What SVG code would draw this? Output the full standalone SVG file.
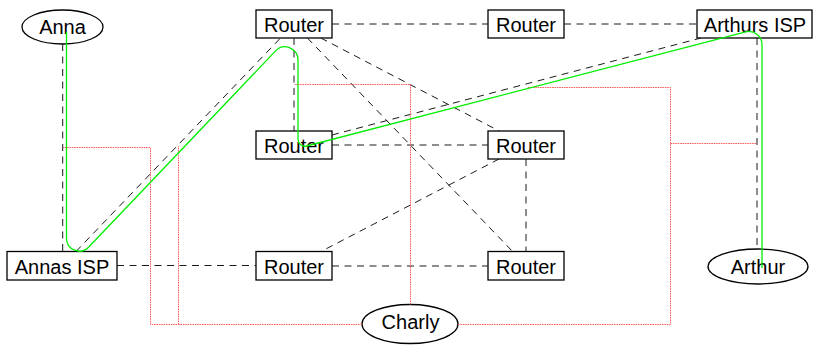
<svg xmlns="http://www.w3.org/2000/svg" width="816" height="345" viewBox="0 0 816 345">
<style>
  .box { fill: #fff; stroke: #000; stroke-width: 1.3; }
  .ell { fill: #fff; stroke: #000; stroke-width: 1.3; }
  .lbl { font-family: "Liberation Sans", Arial, sans-serif; font-size: 20px; fill: #000; text-anchor: middle; }
  .dash { fill: none; stroke: #1a1a1a; stroke-width: 1; stroke-dasharray: 7 5.5; }
  .dot { fill: none; stroke: #ff5c5c; stroke-width: 1; stroke-dasharray: 1.6 0.8; }
  .path { fill: none; stroke: #00ee00; stroke-width: 1.3; }
</style>
<rect width="816" height="345" fill="#fff"/>
<g id="nodes">
  <g id="anna"><ellipse class="ell" cx="62.5" cy="27" rx="40.5" ry="17"/><text class="lbl" x="62.5" y="34.3">Anna</text></g>
  <g id="router1"><rect class="box" x="256" y="10" width="76" height="28"/><text class="lbl" x="294" y="32">Router</text></g>
  <g id="router2"><rect class="box" x="488" y="10" width="76" height="28"/><text class="lbl" x="526" y="32">Router</text></g>
  <g id="arthursisp"><rect class="box" x="697" y="10" width="115" height="28"/><text class="lbl" x="755" y="32">Arthurs ISP</text></g>
  <g id="router3"><rect class="box" x="256" y="131" width="76" height="28"/><text class="lbl" x="294" y="153">Router</text></g>
  <g id="router4"><rect class="box" x="488" y="131" width="76" height="28"/><text class="lbl" x="526" y="153">Router</text></g>
  <g id="annasisp"><rect class="box" x="7" y="251.5" width="110" height="28.5"/><text class="lbl" x="62" y="274">Annas ISP</text></g>
  <g id="router5"><rect class="box" x="256" y="251.5" width="76" height="28.5"/><text class="lbl" x="294" y="274">Router</text></g>
  <g id="router6"><rect class="box" x="488" y="251.5" width="76" height="28.5"/><text class="lbl" x="526" y="274">Router</text></g>
  <g id="arthur"><ellipse class="ell" cx="758" cy="266.5" rx="50" ry="17.5"/><text class="lbl" x="758" y="274">Arthur</text></g>
  <g id="charly"><ellipse class="ell" cx="410" cy="324" rx="48" ry="19.5"/><text class="lbl" x="410.5" y="329.3">Charly</text></g>
</g>
<g id="connectors">
  <g id="links">
    <line class="dash" x1="62.7" y1="44" x2="62.7" y2="251.5"/>
    <line class="dash" x1="76" y1="251.5" x2="280.5" y2="38"/>
    <line class="dash" x1="332" y1="24" x2="488" y2="24"/>
    <line class="dash" x1="564" y1="24" x2="697" y2="24"/>
    <line class="dash" x1="294" y1="38" x2="294" y2="131"/>
    <line class="dash" x1="320.8" y1="38" x2="499.2" y2="131"/>
    <line class="dash" x1="307.4" y1="38" x2="512.6" y2="251.5"/>
    <line class="dash" x1="332" y1="135" x2="701" y2="38"/>
    <line class="dash" x1="332" y1="145" x2="488" y2="145"/>
    <line class="dash" x1="526" y1="159" x2="526" y2="251.5"/>
    <line class="dash" x1="499" y1="159" x2="321" y2="251.5"/>
    <line class="dash" x1="117" y1="265.5" x2="256" y2="265.5"/>
    <line class="dash" x1="332" y1="266" x2="488" y2="266"/>
    <line class="dash" x1="757" y1="38" x2="757" y2="249"/>
  </g>
  <g id="eavesdrop">
    <path class="dot" d="M362 324.5 H150.5 V147.5 H63"/>
    <path class="dot" d="M178.5 324.5 V146"/>
    <path class="dot" d="M410.5 304.5 V84.5 H294"/>
    <path class="dot" d="M458 324.5 H670.5 V87.5 H527"/>
    <path class="dot" d="M670.5 143.5 H757"/>
  </g>
  <path id="route" class="path" d="M66.5 32 V238.1 A12.9 12.9 0 0 0 88.8 247 L275.6 50.9 A13 13 0 0 1 298 59.9 V139.3 A7 7 0 0 0 306.7 146 L745.7 31.9 A13 13 0 0 1 762 44.5 V268"/>
</g>
</svg>
